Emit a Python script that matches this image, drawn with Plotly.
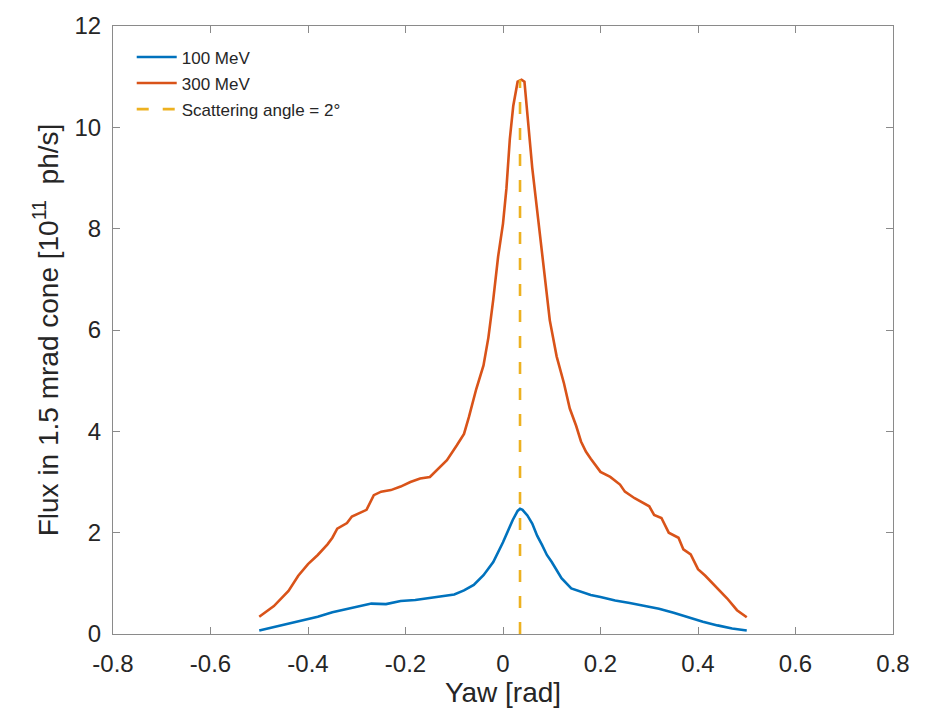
import numpy as np
import plotly.graph_objects as go

# ---- data ----
yaw_100 = [-0.5, -0.47, -0.44, -0.41, -0.38, -0.35, -0.32, -0.30, -0.27, -0.24, -0.21, -0.18,
           -0.15, -0.12, -0.10, -0.08, -0.06, -0.04, -0.02, 0.0, 0.01, 0.02, 0.03, 0.035, 0.04,
           0.05, 0.06, 0.07, 0.08, 0.09, 0.10, 0.12, 0.14, 0.16, 0.18, 0.20, 0.23, 0.26, 0.29,
           0.32, 0.35, 0.38, 0.41, 0.44, 0.47, 0.5]
flux_100 = [0.07, 0.14, 0.21, 0.27, 0.34, 0.43, 0.49, 0.53, 0.60, 0.59, 0.65, 0.67,
            0.71, 0.75, 0.78, 0.86, 0.97, 1.16, 1.42, 1.81, 2.03, 2.25, 2.43, 2.47, 2.45,
            2.34, 2.18, 1.94, 1.76, 1.56, 1.42, 1.10, 0.90, 0.84, 0.77, 0.73, 0.66, 0.61, 0.56,
            0.50, 0.42, 0.33, 0.24, 0.17, 0.11, 0.07]

yaw_300 = [-0.5, -0.47, -0.44, -0.42, -0.40, -0.38, -0.36, -0.35, -0.34, -0.32, -0.31, -0.28,
           -0.265, -0.25, -0.23, -0.21, -0.19, -0.17, -0.15, -0.135, -0.115, -0.095, -0.08,
           -0.07, -0.055, -0.04, -0.03, -0.02, -0.01, 0.0, 0.007, 0.014, 0.021, 0.03, 0.035,
           0.038, 0.044, 0.051, 0.06, 0.072, 0.082, 0.096, 0.11, 0.125, 0.137, 0.15, 0.16,
           0.17, 0.18, 0.20, 0.22, 0.24, 0.25, 0.27, 0.30, 0.31, 0.325, 0.34, 0.36, 0.37,
           0.385, 0.40, 0.415, 0.44, 0.46, 0.48, 0.5]
flux_300 = [0.34, 0.55, 0.85, 1.15, 1.38, 1.56, 1.77, 1.90, 2.08, 2.19, 2.32, 2.45,
            2.74, 2.81, 2.84, 2.91, 3.00, 3.07, 3.10, 3.25, 3.43, 3.72, 3.95,
            4.28, 4.83, 5.30, 5.85, 6.60, 7.45, 8.10, 8.79, 9.77, 10.42, 10.90, 10.93,
            10.94, 10.90, 10.09, 9.20, 8.20, 7.35, 6.19, 5.48, 4.95, 4.45, 4.11, 3.80,
            3.60, 3.46, 3.20, 3.10, 2.95, 2.81, 2.68, 2.52, 2.35, 2.29, 2.00, 1.90, 1.67,
            1.57, 1.28, 1.15, 0.90, 0.70, 0.47, 0.33]

scattering_angle_deg = 2
x_ticks = [-0.8, -0.6, -0.4, -0.2, 0, 0.2, 0.4, 0.6, 0.8]
x_tick_labels = ["-0.8", "-0.6", "-0.4", "-0.2", "0", "0.2", "0.4", "0.6", "0.8"]
y_ticks = [0, 2, 4, 6, 8, 10, 12]
y_tick_labels = ["0", "2", "4", "6", "8", "10", "12"]

BLUE = "#0072BD"
ORANGE = "#D95319"
YELLOW = "#EDB120"
FONT = "Liberation Sans"
TXT = "#262626"
AX = "#8a8a8a"

angle_rad = float(np.deg2rad(scattering_angle_deg))

fig = go.Figure()
fig.add_trace(go.Scatter(x=yaw_100, y=flux_100, mode="lines", name="100 MeV",
                         line=dict(color=BLUE, width=2.6), legendgroup="a"))
fig.add_trace(go.Scatter(x=yaw_300, y=flux_300, mode="lines", name="300 MeV",
                         line=dict(color=ORANGE, width=2.6), legendgroup="b"))
fig.add_trace(go.Scatter(x=[angle_rad, angle_rad], y=[0, max(flux_300)], mode="lines",
                         name="Scattering angle = 2°",
                         line=dict(color=YELLOW, width=2.6, dash="12px,14px"),
                         legendgroup="c"))

axis_common = dict(
    showline=True, linecolor=AX, linewidth=1, mirror="ticks",
    ticks="inside", ticklen=7, tickwidth=1, tickcolor=AX,
    showgrid=False, zeroline=False,
    tickfont=dict(family=FONT, size=24, color=TXT),
)

fig.update_layout(
    width=932, height=711,
    margin=dict(l=113, r=39, t=19, b=77),
    plot_bgcolor="white", paper_bgcolor="white",
    font=dict(family=FONT, color=TXT),
    xaxis=dict(range=[-0.8, 0.8], tickvals=x_ticks, ticktext=x_tick_labels,
               ticklabelstandoff=8,
               title=dict(text="Yaw [rad]", font=dict(family=FONT, size=28, color=TXT),
                          standoff=2),
               **axis_common),
    yaxis=dict(range=[0, 12], tickvals=y_ticks, ticktext=y_tick_labels,
               ticklabelstandoff=6,
               title=dict(text="Flux in 1.5 mrad cone [10<sup>11</sup>  ph/s]",
                          font=dict(family=FONT, size=28, color=TXT), standoff=7),
               **axis_common),
    legend=dict(x=0.024, y=0.978, xanchor="left", yanchor="top",
                bgcolor="rgba(0,0,0,0)", borderwidth=0, itemwidth=40,
                font=dict(family=FONT, size=17, color=TXT),
                tracegroupgap=1),
    showlegend=True,
)

fig.write_html("out.html")
